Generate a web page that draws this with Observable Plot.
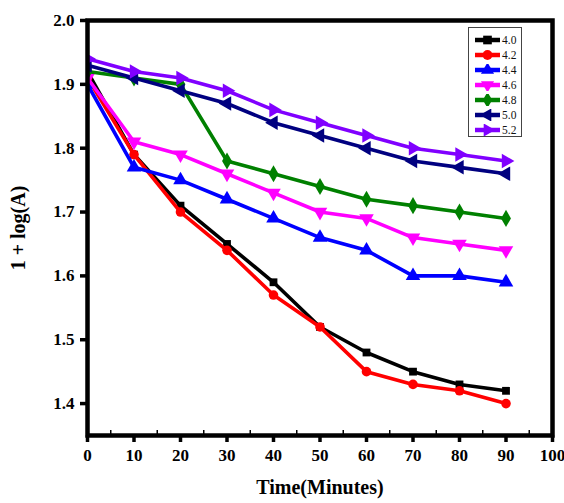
<!DOCTYPE html>
<html><head><meta charset="utf-8">
<script src="https://cdn.jsdelivr.net/npm/d3@7"></script>
<script src="https://cdn.jsdelivr.net/npm/@observablehq/plot@0.6"></script>
<style>
body{margin:0;background:#fff}
#wrap{position:relative;width:564px;height:503px}
#legend{position:absolute;left:468px;top:27px;width:54px;height:110px;border:1px solid #444;background:#fff;box-sizing:border-box;padding-top:4px}
.item{display:flex;align-items:center;height:15px;font-family:"Liberation Serif",serif;font-size:11.5px;color:#111}
.item svg{margin-left:5px;margin-right:1px}
</style>
</head><body><div id="wrap"><div id="legend"></div></div>
<script>
const times = [0, 10, 20, 30, 40, 50, 60, 70, 80, 90];
const seriesNames = ["4.0", "4.2", "4.4", "4.6", "4.8", "5.0", "5.2"];
const s40 = [1.92, 1.79, 1.71, 1.65, 1.59, 1.52, 1.48, 1.45, 1.43, 1.42];
const s42 = [1.91, 1.79, 1.70, 1.64, 1.57, 1.52, 1.45, 1.43, 1.42, 1.40];
const s44 = [1.90, 1.77, 1.75, 1.72, 1.69, 1.66, 1.64, 1.60, 1.60, 1.59];
const s46 = [1.91, 1.81, 1.79, 1.76, 1.73, 1.70, 1.69, 1.66, 1.65, 1.64];
const s48 = [1.92, 1.91, 1.90, 1.78, 1.76, 1.74, 1.72, 1.71, 1.70, 1.69];
const s50 = [1.93, 1.91, 1.89, 1.87, 1.84, 1.82, 1.80, 1.78, 1.77, 1.76];
const s52 = [1.94, 1.92, 1.91, 1.89, 1.86, 1.84, 1.82, 1.80, 1.79, 1.78];
const xTicks = [0, 10, 20, 30, 40, 50, 60, 70, 80, 90, 100];
const xMinorTicks = [5, 15, 25, 35, 45, 55, 65, 75, 85, 95];
const yTicks = [1.4, 1.5, 1.6, 1.7, 1.8, 1.9, 2.0];

const allSeries = [s40, s42, s44, s46, s48, s50, s52];
const colors = ["#000000", "#ff0000", "#0000ff", "#ff00ff", "#008000", "#000080", "#8000ff"];
const symbols = ["square", "circle", "triangle", "triangle", "diamond", "triangle", "triangle"];
const rotations = [0, 0, 0, 180, 0, -90, 90];
const radii = [4.4, 4.8, 5.4, 5.4, 5.2, 5.4, 5.4];

const rows = [];
allSeries.forEach((vals, i) => vals.forEach((v, j) => rows.push({s: seriesNames[i], t: times[j], v})));

const font = "Liberation Serif";
const marks = [];
seriesNames.forEach((name, i) => {
  const data = rows.filter(d => d.s === name);
  marks.push(Plot.line(data, {x: "t", y: "v", stroke: colors[i], strokeWidth: 3.6, clip: true}));
  marks.push(Plot.dot(data, {x: "t", y: "v", fill: colors[i], stroke: "none", symbol: symbols[i], r: radii[i], rotate: rotations[i], clip: true}));
});

const chart = Plot.plot({
  width: 564,
  height: 503,
  marginLeft: 87,
  marginRight: 12,
  marginTop: 20,
  marginBottom: 68,
  style: {fontFamily: font, fontWeight: "bold", fontSize: "17px", color: "#000", background: "#fff"},
  x: {domain: [0, 100]},
  y: {domain: [1.35, 2.0]},
  marks: [
    ...marks,
    Plot.frame({stroke: "#000", strokeWidth: 4.5}),
    Plot.axisX(xTicks, {tickSize: 7, tickPadding: 6, strokeWidth: 3.5, label: "Time(Minutes)", labelAnchor: "center", labelOffset: 58, labelArrow: "none", fontSize: 17}),
    Plot.axisX(xMinorTicks, {tickSize: -5, strokeWidth: 1.5, text: null, label: null}),
    Plot.axisY(yTicks, {tickSize: 7, tickPadding: 6, strokeWidth: 3.5, tickFormat: d3.format(".1f"), label: "1 + log(A)", labelAnchor: "center", labelOffset: 77, labelArrow: "none", fontSize: 17})
  ]
});
chart.querySelectorAll("text").forEach(t => {
  t.setAttribute("font-size", "17px");
  t.setAttribute("font-weight", "bold");
});
chart.querySelectorAll("g[aria-label='x-axis label'] text, g[aria-label='y-axis label'] text").forEach(t => t.setAttribute("font-size", "20px"));
document.getElementById("wrap").prepend(chart);

const legend = document.getElementById("legend");
seriesNames.forEach((name, i) => {
  const item = document.createElement("div");
  item.className = "item";
  const svg = d3.create("svg").attr("width", 27).attr("height", 12);
  svg.append("line").attr("x1", 1).attr("x2", 26).attr("y1", 6).attr("y2", 6).attr("stroke", colors[i]).attr("stroke-width", 4.5);
  const symType = {square: d3.symbolSquare, circle: d3.symbolCircle, triangle: d3.symbolTriangle, diamond: d3.symbolDiamond}[symbols[i]];
  svg.append("path").attr("d", d3.symbol(symType, 75)()).attr("fill", colors[i])
    .attr("transform", `translate(13.5,6) rotate(${rotations[i]})`);
  item.appendChild(svg.node());
  const span = document.createElement("span");
  span.textContent = name;
  item.appendChild(span);
  legend.appendChild(item);
});
</script>
</body></html>
